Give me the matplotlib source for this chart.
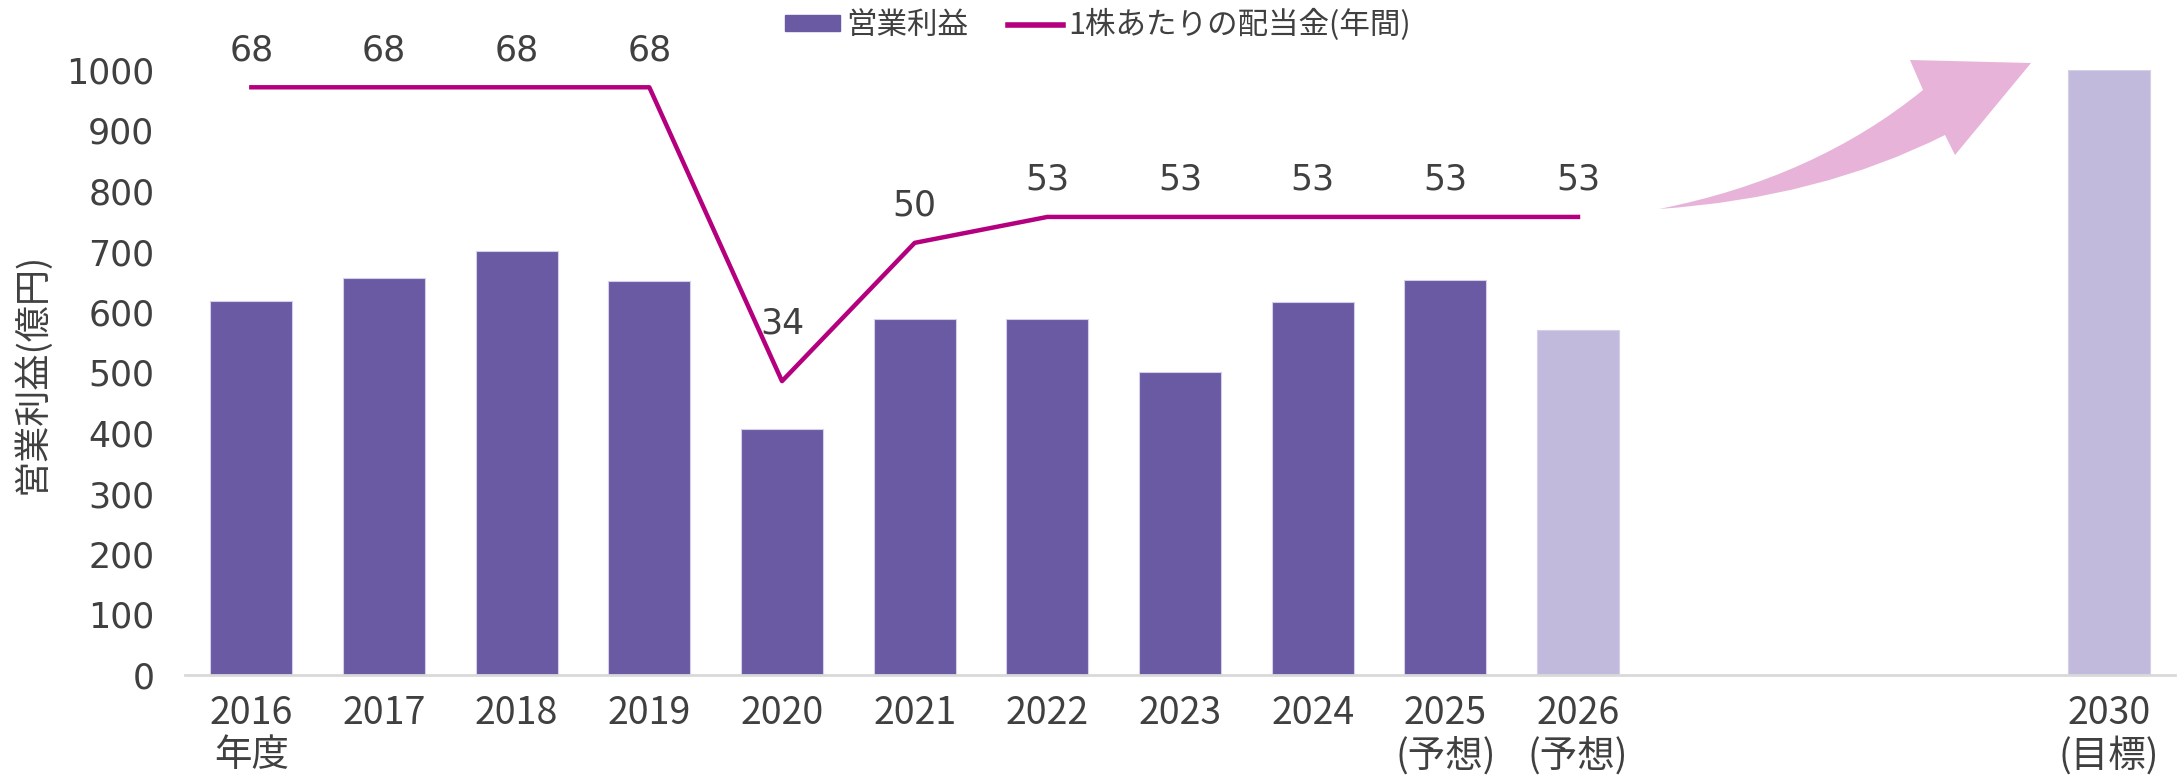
import numpy as np
import matplotlib
matplotlib.use("Agg")
import matplotlib.pyplot as plt
from matplotlib.path import Path
from matplotlib.patches import PathPatch, Patch
from matplotlib.lines import Line2D

plt.rcParams["font.family"] = ["DejaVu Sans", "Noto Sans CJK JP"]

## data
years     = ["2016", "2017", "2018", "2019", "2020", "2021", "2022",
             "2023", "2024", "2025", "2026", "2030"]
year_note = ["年度", "", "", "", "", "", "", "", "", "(予想)", "(予想)", "(目標)"]
profit    = [618, 657, 701, 651, 407, 589, 589, 501, 616, 653, 570, 1000]   # 億円
forecast  = [False]*10 + [True, True]
dividend  = [68, 68, 68, 68, 34, 50, 53, 53, 53, 53, 53]                 # 円/株

## style
dark    = "#6A59A3"
light   = "#C2BADC"
magenta = "#B4007E"
pink    = "#E7B3D8"
txt     = "#404040"
W, H = 2183, 778

# x positions: 2016-2026 consecutive, gap, then 2030
xpos = list(range(len(years) - 1)) + [14]

fig = plt.figure(figsize=(W/100, H/100), dpi=100)
ax = fig.add_axes([185/W, 1 - 675/H, 1990/W, 605/H])

cols = [light if f else dark for f in forecast]
ax.bar(xpos, profit, width=0.62, color=cols, edgecolor="#D5CFEA", linewidth=0.8, zorder=2)

ax.set_xlim(-0.5, 14.5)
ax.set_ylim(0, 1000)
ax.set_yticks(np.arange(0, 1001, 100))
ax.tick_params(axis="y", length=0, pad=22, labelsize=25, labelcolor=txt)

labels = [y + ("\n" + n if n else "") for y, n in zip(years, year_note)]
ax.set_xticks(xpos)
ax.set_xticklabels(labels, family="Noto Sans CJK JP", fontsize=27, color=txt,
                   linespacing=1.1)
ax.tick_params(axis="x", length=0, pad=14)

for s in ["top", "right", "left"]:
    ax.spines[s].set_visible(False)
ax.spines["bottom"].set_color("#D9D9D9")
ax.spines["bottom"].set_linewidth(2)

fig.text(32/W, 1 - 373/H, "営業利益(億円)", rotation=90, ha="center", va="center",
         family="Noto Sans CJK JP", fontsize=26, color=txt)

# dividend line on secondary axis
ax2 = ax.twinx()
ax2.set_ylim(0, 70)
ax2.set_axis_off()
xd = xpos[:len(dividend)]
ax2.plot(xd, dividend, color=magenta, lw=3.2, zorder=3)
for x, v in zip(xd, dividend):
    off = 37 if v != 34 else 58
    ax2.annotate(str(v), (x, v), xytext=(0, off*0.72), textcoords="offset points",
                 ha="center", va="center", fontsize=25, color=txt,
                 annotation_clip=False)

# legend
handles = [Patch(color=dark), Line2D([], [], color=magenta, lw=4)]
fig.legend(handles, ["営業利益", "1株あたりの配当金(年間)"], loc="center",
           bbox_to_anchor=(0.503, 1 - 25/H), ncol=2, frameon=False,
           prop={"family": "Noto Sans CJK JP", "size": 22}, labelcolor=txt,
           handlelength=1.8, handleheight=0.4, handletextpad=0.2, columnspacing=1.3)

# curved arrow toward the 2030 target
pts = [(1659, 209), (1815, 178), (1923, 90), (1910, 60), (2031, 63),
       (1955, 155), (1945, 135), (1820, 198), (1659, 209), (1659, 209)]
codes = [Path.MOVETO, Path.CURVE3, Path.CURVE3, Path.LINETO, Path.LINETO,
         Path.LINETO, Path.LINETO, Path.CURVE3, Path.CURVE3, Path.CLOSEPOLY]
verts = [(x/W, 1 - y/H) for x, y in pts]
fig.add_artist(PathPatch(Path(verts, codes), facecolor=pink, edgecolor="none",
                         transform=fig.transFigure))

fig.savefig("out.png", dpi=100)
